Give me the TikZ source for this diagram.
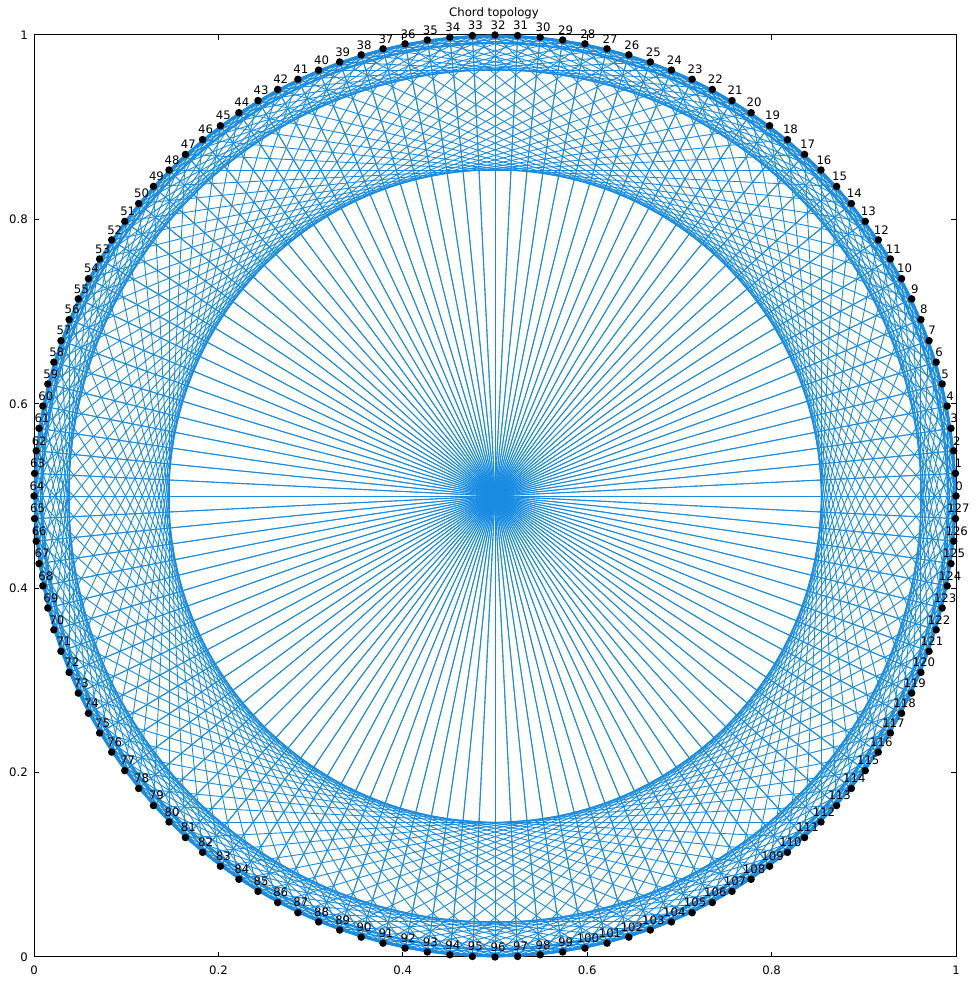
\documentclass[tikz,border=0pt]{standalone}
\usepackage{fontspec}
\setmainfont{DejaVu Sans}
\usetikzlibrary{calc}
\definecolor{chordblue}{RGB}{25,140,225}
\tikzset{dot/.style={circle,fill=black,inner sep=0,minimum size=7.5pt},lbl/.style={font=\fontsize{11.7}{13}\selectfont,inner sep=0},edge/.style={chordblue,line width=.9pt}}
\begin{document}
\begin{tikzpicture}[x=1pt,y=1pt]
\useasboundingbox(0,0)rectangle(979,982);
% frame, ticks, title
\draw[line width=1pt](34,25)rectangle(956,947);
\foreach \t [count=\n] in {0,0.2,0.4,0.6,0.8,1}{\pgfmathsetmacro\u{34+922*\t}\pgfmathsetmacro\v{25+922*\t}
\draw[line width=1pt](\u,25)--++(0,5)(\u,947)--++(0,-5)(34,\v)--++(5,0)(956,\v)--++(-5,0);
\node[lbl](tx\n)at(\u,12){\t};\node[lbl,anchor=east](ty\n)at(28,\v){\t};}
\node[lbl](title)at(494,969){Chord topology};
% ring of peers
\coordinate(c)at(495,486);
\foreach \i in {0,...,127}{\coordinate(p\i)at($(c)+(\i*2.8125:461)$);}
% fingers i -> i+2^k
\foreach \i in {0,...,127}{\foreach \k in {1,2,4,8,16,32,64}{\pgfmathtruncatemacro\j{mod(\i+\k,128)}\draw[edge](p\i)--(p\j);}}
\foreach \i in {0,...,127}{\node[dot](n\i)at(p\i){};\node[lbl](l\i)at([shift={(3,10)}]p\i){\i};}
\end{tikzpicture}
\end{document}
